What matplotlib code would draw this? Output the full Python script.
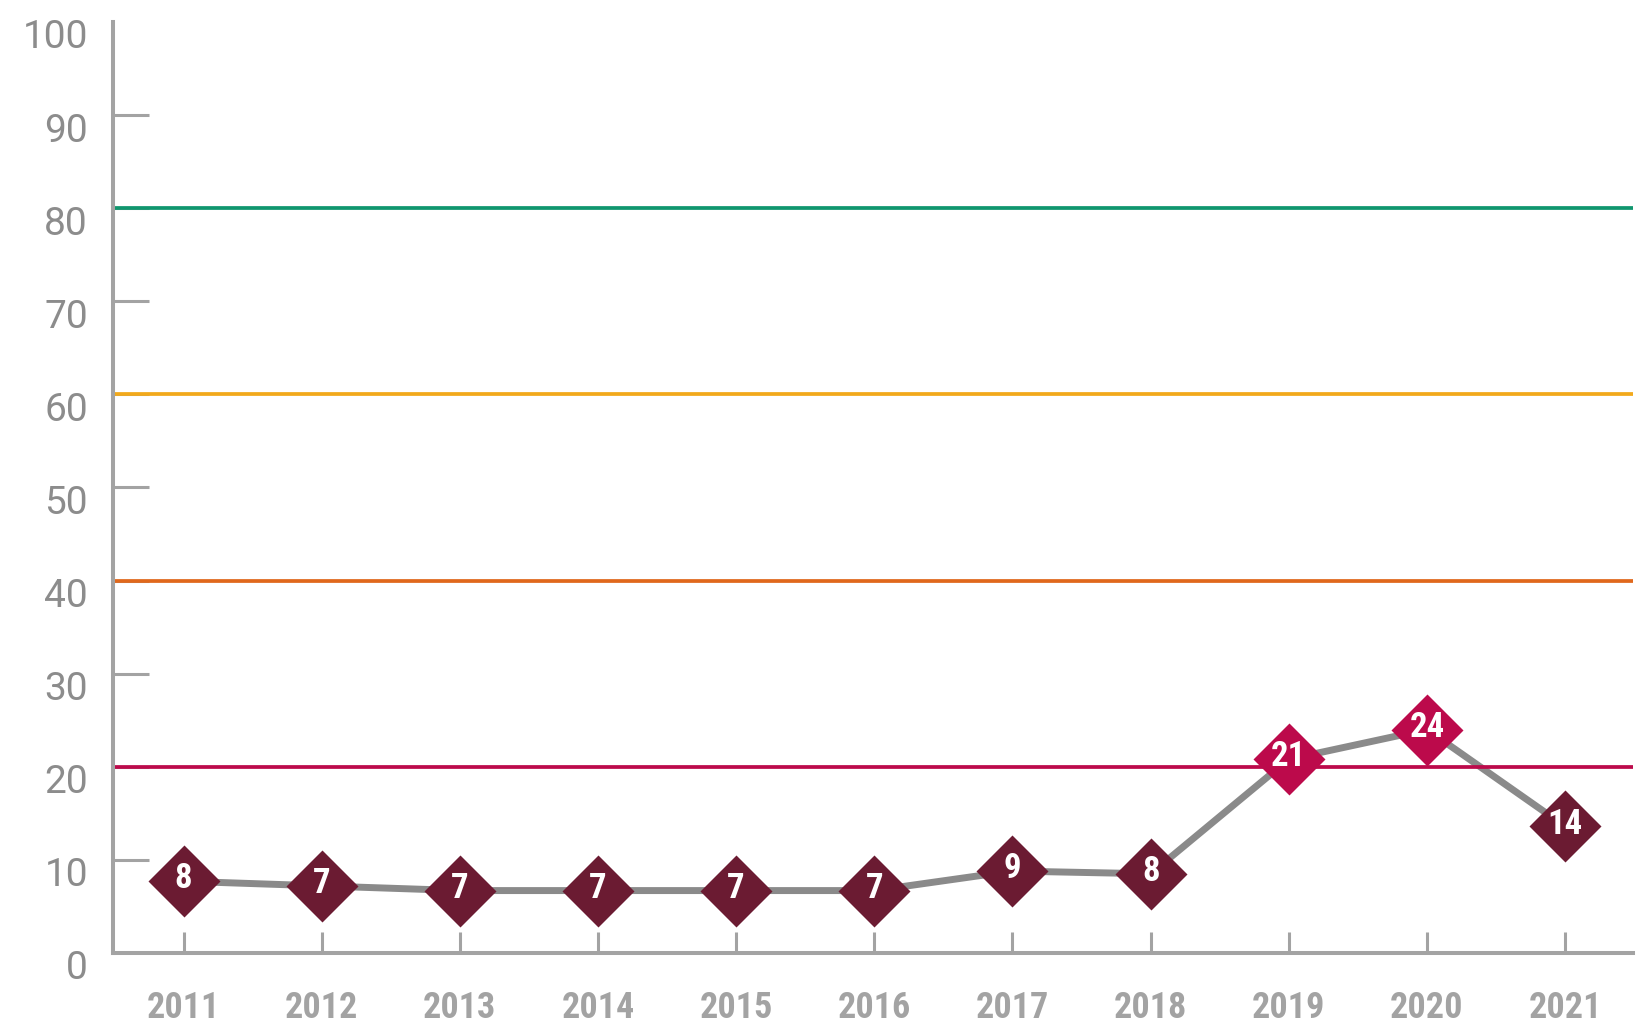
import matplotlib
matplotlib.use("Agg")
import matplotlib.pyplot as plt
from matplotlib import font_manager as fm
import matplotlib.transforms as mtransforms

years = [2011, 2012, 2013, 2014, 2015, 2016, 2017, 2018, 2019, 2020, 2021]
values = [7.7, 7.2, 6.7, 6.7, 6.7, 6.7, 8.8, 8.5, 20.8, 24.0, 13.6]
labels = ["8", "7", "7", "7", "7", "7", "9", "8", "21", "24", "14"]
thresholds = [20, 40, 60, 80]
threshold_colors = ["#bc0a4b", "#e0681c", "#f2a91b", "#10966e"]
yticks = list(range(0, 101, 10))

def has_font(name):
    try:
        fm.findfont(fm.FontProperties(family=name), fallback_to_default=False)
        return True
    except Exception:
        return False

cond = "Roboto Condensed" if has_font("Roboto Condensed") else "Roboto"

MAROON = "#6b1b32"
CRIMSON = "#bc0a4b"
AXGRAY = "#a3a3a3"

fig = plt.figure(figsize=(16.43, 10.26), dpi=100)
ax = fig.add_axes([0.0688, 0.0712, 0.925, 0.9074])

for t, c in zip(thresholds, threshold_colors):
    ax.axhline(t, color=c, lw=2.7, zorder=2.5)

ax.plot(years, values, color="#8a8a8a", lw=5.0, zorder=2, solid_capstyle="butt")
for x, v, lab in zip(years, values, labels):
    col = CRIMSON if v > 20 else MAROON
    ax.plot([x], [v], marker="D", markersize=37, color=col, mec="none", zorder=3)
    ax.text(x, v + 0.25, lab, color="white", fontsize=25, fontweight="bold",
            family=cond, ha="center", va="center", zorder=4)

ax.set_xlim(2010.49, 2021.49)
ax.set_ylim(0, 100)
ax.set_xticks(years)
ax.set_xticklabels([str(y) for y in years])
ax.set_yticks(yticks)
ax.set_yticklabels([str(t) for t in yticks])

for s in ["top", "right"]:
    ax.spines[s].set_visible(False)
for s in ["left", "bottom"]:
    ax.spines[s].set_color(AXGRAY)
    ax.spines[s].set_linewidth(2.9)
    ax.spines[s].set_capstyle("projecting")

ax.tick_params(axis="y", direction="in", length=26, width=2.2, color=AXGRAY,
               pad=18, labelsize=28, labelcolor="#8c8c8c")
ax.tick_params(axis="x", direction="in", length=15, width=2.2, color=AXGRAY,
               pad=27, labelsize=26, labelcolor="#a3a3a3")
for lab in ax.get_yticklabels():
    lab.set_family("Roboto")
    lab.set_transform(lab.get_transform() + mtransforms.ScaledTranslation(0, -12/100, fig.dpi_scale_trans))
for lab in ax.get_xticklabels():
    lab.set_family(cond)
    lab.set_fontweight("bold")

yt = ax.yaxis.get_major_ticks()
yt[0].tick1line.set_visible(False)
yt[-1].tick1line.set_visible(False)

fig.savefig("out.png", dpi=100, facecolor="white")
